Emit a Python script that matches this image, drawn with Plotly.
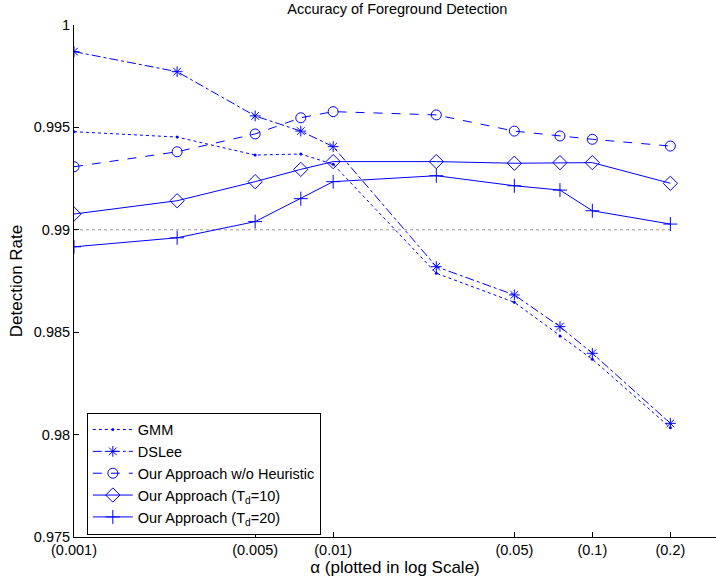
import numpy as np
import plotly.graph_objects as go

alpha = [0.001, 0.0025, 0.005, 0.0075, 0.01, 0.025, 0.05, 0.075, 0.1, 0.2]
gmm = [0.99479, 0.99453, 0.99365, 0.99370, 0.99320, 0.98788, 0.98646, 0.98481, 0.98368, 0.98034]
dslee = [0.99870, 0.99772, 0.99556, 0.99482, 0.99406, 0.98820, 0.98682, 0.98527, 0.98397, 0.98055]
no_heur = [0.99308, 0.99381, 0.99468, 0.99547, 0.99577, 0.99561, 0.99482, 0.99458, 0.99442, 0.99409]
td10 = [0.99077, 0.99142, 0.99235, 0.99295, 0.99333, 0.99333, 0.99325, 0.99328, 0.99328, 0.99227]
td20 = [0.98917, 0.98961, 0.99040, 0.99152, 0.99235, 0.99264, 0.99215, 0.99194, 0.99093, 0.99028]
ref_level = 0.99
x_ticks = [0.001, 0.005, 0.01, 0.05, 0.1, 0.2]
x_ticktext = ["(0.001)", "(0.005)", "(0.01)", "(0.05)", "(0.1)", "(0.2)"]
y_ticks = [0.975, 0.98, 0.985, 0.99, 0.995, 1.0]
y_ticktext = ["0.975", "0.98", "0.985", "0.99", "0.995", "1"]

BLUE = "rgb(0,0,255)"
FS = 14.5
fig = go.Figure()

fig.add_trace(go.Scatter(x=[alpha[0], alpha[-1]], y=[ref_level, ref_level], mode="lines",
                         line=dict(color="rgb(150,150,150)", width=1, dash="dot"),
                         showlegend=False, hoverinfo="skip"))

fig.add_trace(go.Scatter(x=alpha, y=gmm, mode="lines+markers", name="GMM",
                         line=dict(color=BLUE, width=1, dash="dot"),
                         marker=dict(symbol="circle", size=3, color=BLUE)))
fig.add_trace(go.Scatter(x=alpha, y=dslee, mode="lines+markers", name="DSLee",
                         line=dict(color=BLUE, width=1, dash="dashdot"),
                         marker=dict(symbol="asterisk-open", size=9, color=BLUE,
                                     line=dict(color=BLUE, width=1))))
fig.add_trace(go.Scatter(x=alpha, y=no_heur, mode="lines+markers", name="Our Approach w/o Heuristic",
                         line=dict(color=BLUE, width=1, dash="dash"),
                         marker=dict(symbol="circle-open", size=10, color=BLUE,
                                     line=dict(color=BLUE, width=1))))
fig.add_trace(go.Scatter(x=alpha, y=td10, mode="lines+markers", name="Our Approach (T<sub>d</sub>=10)",
                         line=dict(color=BLUE, width=1),
                         marker=dict(symbol="diamond-open", size=11, color=BLUE,
                                     line=dict(color=BLUE, width=1))))
fig.add_trace(go.Scatter(x=alpha, y=td20, mode="lines+markers", name="Our Approach (T<sub>d</sub>=20)",
                         line=dict(color=BLUE, width=1),
                         marker=dict(symbol="cross-thin-open", size=10, color=BLUE,
                                     line=dict(color=BLUE, width=1))))

fig.update_layout(
    width=716, height=583,
    margin=dict(l=74, r=0, t=25, b=46),
    paper_bgcolor="white", plot_bgcolor="white",
    font=dict(family="Liberation Sans, Arial, sans-serif", size=FS, color="black"),
    title=dict(text="Accuracy of Foreground Detection", x=0.555, xanchor="center",
               y=0.993, yanchor="top", font=dict(size=FS)),
    showlegend=True,
    legend=dict(x=0.02, y=0.243, xanchor="left", yanchor="top",
                bgcolor="white", bordercolor="black", borderwidth=1,
                font=dict(size=FS), itemwidth=40, tracegroupgap=0),
    xaxis=dict(type="log", range=[np.log10(0.001), np.log10(0.3)],
               tickvals=x_ticks, ticktext=x_ticktext,
               ticks="inside", ticklen=5, tickcolor="black",
               showline=True, linecolor="black", linewidth=1,
               showgrid=False, zeroline=False,
               title=dict(text="α (plotted in log Scale)", standoff=2)),
    yaxis=dict(range=[0.975, 1.0], tickvals=y_ticks, ticktext=y_ticktext,
               ticks="inside", ticklen=5, tickcolor="black",
               showline=True, linecolor="black", linewidth=1,
               showgrid=False, zeroline=False,
               title=dict(text="Detection Rate", standoff=6)),
)

fig.write_html("out.html", config={"displayModeBar": False},
               post_script="document.body.style.margin='0';")
